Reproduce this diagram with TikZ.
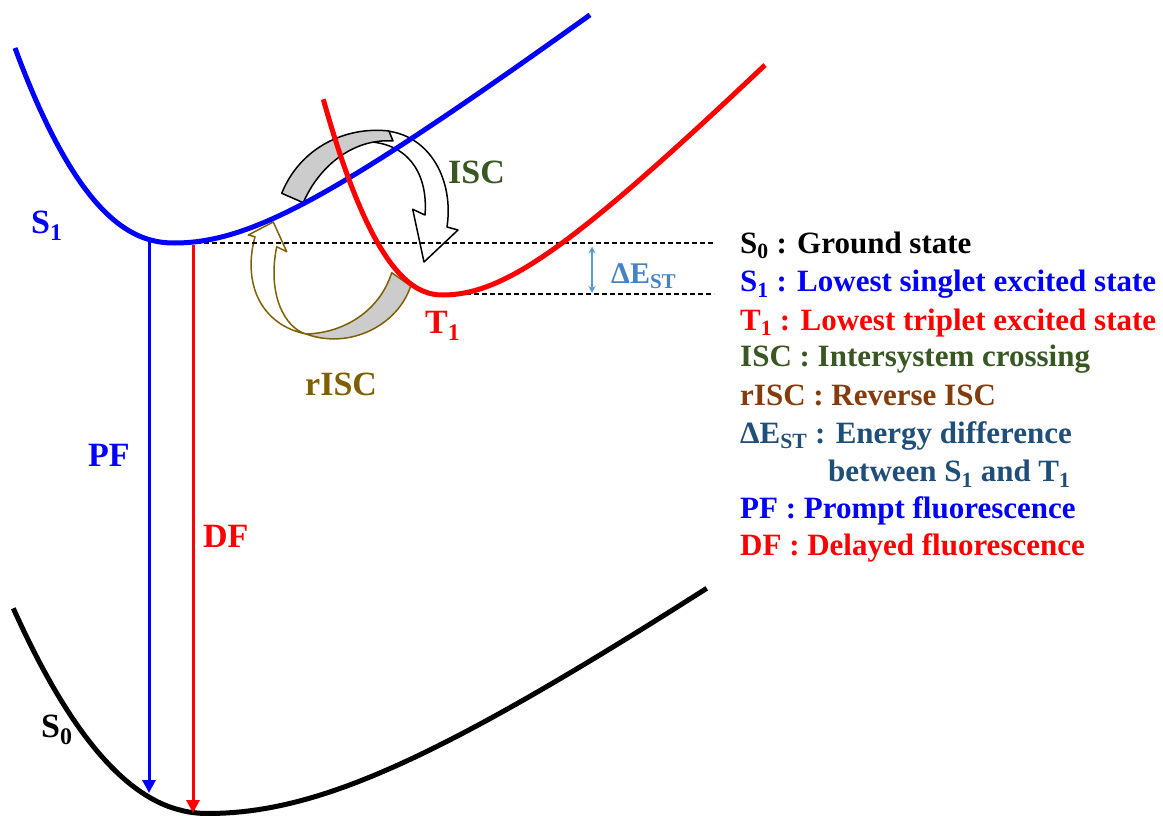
\documentclass[tikz,border=0pt]{standalone}
\usepackage{fontspec}
\setmainfont{Liberation Serif}
\usetikzlibrary{arrows.meta}

\definecolor{iscgreen}{RGB}{56,87,35}
\definecolor{riscolive}{RGB}{127,96,0}
\definecolor{riscbrown}{RGB}{132,60,12}
\definecolor{deltablue}{RGB}{91,155,213}
\definecolor{deltatext}{RGB}{70,130,195}
\definecolor{legendblue}{RGB}{31,78,121}
\definecolor{ribbongray}{RGB}{204,204,204}

\newcommand{\labfont}{\fontsize{34}{40}\selectfont\bfseries}
\newcommand{\legfont}{\fontsize{31}{37}\selectfont\bfseries}

\begin{document}
\begin{tikzpicture}[x=1pt, y=-1pt,
		curve/.style={line width=5pt, samples=60},
		emission/.style={line width=3pt, -{Triangle[length=13pt,width=13pt]}},
		level/.style={line width=1.5pt, dash pattern=on 5pt off 3pt},
		ribbon/.style={line width=1.5pt, line join=round},
		lab/.style={anchor=base west, inner sep=0pt, font=\labfont},
		legend/.style={anchor=base west, inner sep=0pt, font=\legfont}
		]
		\useasboundingbox (0,0) rectangle (1163,816);
		
		% curved arrows for ISC and rISC
		\path [ribbon, draw=black, fill=white] (387,131) .. controls (430,136) and (454,180) .. (447,227)
			-- (458,230) -- (424,262) -- (412.7,209.3) -- (425,215) .. controls (428,178) and (412,146) .. (372,142) -- cycle;
		\path [ribbon, draw=black, fill=ribbongray] (281.7,193.3) .. controls (300,148) and (345,126) .. (389,131)
			-- (393,141) .. controls (352,138) and (318,168) .. (303.3,202.7) -- cycle;
		\path [ribbon, draw=riscolive, fill=white] (255,236.7) .. controls (242,285) and (262,325) .. (306,334)
			.. controls (285,328) and (267,295) .. (276.7,246.7) -- (286.7,251.7) -- (273.3,222) -- (248.3,235) -- cycle;
		\path [ribbon, draw=riscolive, fill=ribbongray] (306,334) .. controls (345,333) and (380,310) .. (391.7,272.7)
			-- (410.7,286) .. controls (398,325) and (350,350) .. (306,334) -- cycle;
		
		% energy levels
		\coordinate (s1min) at (172,243);
		\coordinate (t1min) at (442,294);
		\coordinate (s1end) at (714,243);
		\coordinate (t1end) at (714,294);
		\draw [level] (s1min) -- (s1end);
		\draw [level] (t1min) -- (t1end);
		\coordinate (gaptop) at (592,246.5);
		\coordinate (gapbot) at (592,293);
		\draw [deltablue, line width=2pt, {Stealth[length=7pt,width=7pt]}-{Stealth[length=7pt,width=7pt]}] (gaptop) -- (gapbot);
		
		% potential curves (S1, T1, S0)
		\draw [curve, blue] plot [domain=15:174.9] (\x, {243-195*((175-\x)/160)^2.22})
			-- plot [domain=175:590] (\x, {243-75*(sqrt(((\x-175)/100)^2+1.31^2)-1.31)});
		\draw [curve, red] plot [domain=323.3:442.9] (\x, {295-195.7*((443-\x)/119.7)^2.186})
			-- plot [domain=443:765] (\x, {295-100*(sqrt(((\x-443)/100)^2+1.104^2)-1.104)});
		\draw [curve, black] plot [domain=13.3:207.9] (\x, {813.5-205.2*((208-\x)/194.7)^2.115})
			-- plot [domain=208:706.7] (\x, {813.5-70*(sqrt(((\x-208)/100)^2+2.257^2)-2.257)});
		
		% fluorescence
		\coordinate (pftop) at (149,241);
		\coordinate (pfbot) at (149,793);
		\coordinate (dftop) at (193,245);
		\coordinate (dfbot) at (193,813);
		\draw [emission, blue] (pftop) -- (pfbot);
		\draw [emission, red] (dftop) -- (dfbot);
		
		% labels
		\node [lab, blue] (S1lab) at (31,233) {S\textsubscript{1}};
		\node [lab, black] (S0lab) at (41,737) {S\textsubscript{0}};
		\node [lab, red] (T1lab) at (425,333) {T\textsubscript{1}};
		\node [lab, iscgreen] (ISClab) at (448,183) {ISC};
		\node [lab, riscolive] (rISClab) at (305,395) {rISC};
		\node [lab, blue] (PFlab) at (88,466) {PF};
		\node [lab, red] (DFlab) at (203,547) {DF};
		\node [lab, deltatext, font=\fontsize{30}{34}\selectfont\bfseries] (gaplab) at (611,283) {ΔE\textsubscript{ST}};
		
		% legend
		\node [legend, black] (legS0) at (740,253) {S\textsubscript{0} : Ground state};
		\node [legend, blue] (legS1) at (740,291.7) {S\textsubscript{1} : Lowest singlet excited state};
		\node [legend, red] (legT1) at (740,330) {T\textsubscript{1} : Lowest triplet excited state};
		\node [legend, iscgreen] (legISC) at (740,366.7) {ISC : Intersystem crossing};
		\node [legend, riscbrown] (legrISC) at (740,405) {rISC : Reverse ISC};
		\node [legend, legendblue] (legdE) at (740,443) {ΔE\textsubscript{ST} : Energy difference};
		\node [legend, legendblue] (legdE2) at (828,481.7) {between S\textsubscript{1} and T\textsubscript{1}};
		\node [legend, blue] (legPF) at (740,518) {PF : Prompt fluorescence};
		\node [legend, red] (legDF) at (740,555) {DF : Delayed fluorescence};
	\end{tikzpicture}
\end{document}
